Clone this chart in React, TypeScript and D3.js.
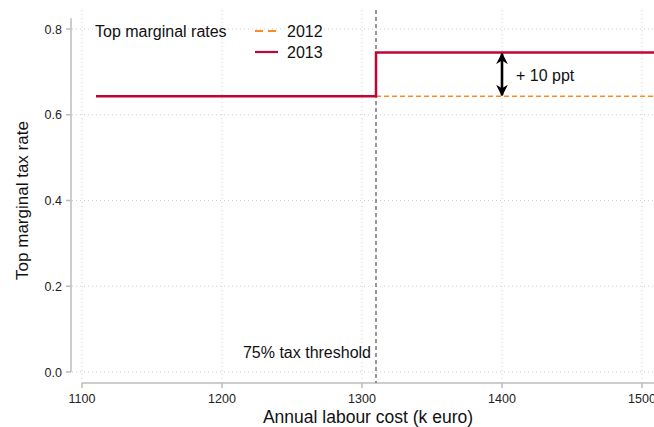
import React from "react";
import * as d3 from "d3";

const xTicks = [1100, 1200, 1300, 1400, 1500];
const yTicks = [0.0, 0.2, 0.4, 0.6, 0.8];
const incomeRange = [1110, 1510];
const threshold = 1310;
const rate2012 = [0.643, 0.643];
const rate2013Below = 0.643;
const rate2013Above = 0.745;
const seriesNames = ["2012", "2013"];
const legendTitle = "Top marginal rates";
const arrowX = 1400;

const W = 654;
const H = 427;
const FONT = "'Liberation Sans', Arial, Helvetica, sans-serif";

export default function App() {
  const x = d3.scaleLinear().domain([1100, 1500]).range([82, 642]);
  const y = d3.scaleLinear().domain([0, 0.8]).range([372, 29]);
  const line = d3
    .line<[number, number]>()
    .x((d) => x(d[0]))
    .y((d) => y(d[1]));

  const data2012: [number, number][] = [
    [incomeRange[0], rate2012[0]],
    [incomeRange[1], rate2012[1]],
  ];
  const data2013: [number, number][] = [
    [incomeRange[0], rate2013Below],
    [threshold, rate2013Below],
    [threshold, rate2013Above],
    [incomeRange[1], rate2013Above],
  ];
  const red = "#c10534";
  const orange = "#ff8c1a";
  const axisY = 383;
  const axisX = 71;

  return (
    <svg
      width={W}
      height={H}
      style={{ position: "absolute", left: 0, top: 0, background: "#fff" }}
      fontFamily={FONT}
    >
      <defs>
        <marker
          id="ah"
          viewBox="0 0 10 10"
          refX="9"
          refY="5"
          markerWidth="4.5"
          markerHeight="4.5"
          orient="auto-start-reverse"
          markerUnits="strokeWidth"
        >
          <path d="M0,0 L10,5 L0,10 L3,5 z" fill="#000" />
        </marker>
      </defs>
      {/* grid */}
      {yTicks.map((t) => (
        <line
          key={"gy" + t}
          x1={axisX + 1}
          x2={W}
          y1={y(t)}
          y2={y(t)}
          stroke="#cfcfcf"
          strokeWidth={1}
          strokeDasharray="1,3"
        />
      ))}
      {xTicks.map((t) => (
        <line
          key={"gx" + t}
          x1={x(t)}
          x2={x(t)}
          y1={10}
          y2={axisY}
          stroke="#cfcfcf"
          strokeWidth={1}
          strokeDasharray="1,3"
        />
      ))}
      {/* axes */}
      <line x1={axisX} x2={axisX} y1={y(0.825)} y2={y(0)} stroke="#bdbdbd" strokeWidth={1.5} />
      {yTicks.map((t) => (
        <g key={"ty" + t}>
          <line x1={axisX - 5} x2={axisX} y1={y(t)} y2={y(t)} stroke="#bdbdbd" strokeWidth={1.5} />
          <text x={axisX - 9} y={y(t) + 4.5} textAnchor="end" fontSize={12.5} fill="#222">
            {t.toFixed(1)}
          </text>
        </g>
      ))}
      <line x1={x(1100)} x2={W + 2} y1={axisY} y2={axisY} stroke="#bdbdbd" strokeWidth={1.5} />
      {xTicks.map((t) => (
        <g key={"tx" + t}>
          <line x1={x(t)} x2={x(t)} y1={axisY} y2={axisY + 5} stroke="#bdbdbd" strokeWidth={1.5} />
          <text x={x(t)} y={axisY + 20} textAnchor="middle" fontSize={12.5} fill="#222">
            {t}
          </text>
        </g>
      ))}
      {/* axis titles */}
      <text
        transform={`translate(28,${(y(0) + y(0.8)) / 2}) rotate(-90)`}
        textAnchor="middle"
        fontSize={17}
        fill="#111"
      >
        Top marginal tax rate
      </text>
      <text x={368} y={423} textAnchor="middle" fontSize={17.5} fill="#111">
        Annual labour cost (k euro)
      </text>
      {/* threshold */}
      <line
        x1={x(threshold)}
        x2={x(threshold)}
        y1={10}
        y2={axisY}
        stroke="#555"
        strokeWidth={1.2}
        strokeDasharray="4,3"
      />
      <text x={x(threshold) - 5} y={358} textAnchor="end" fontSize={16} fill="#111">
        75% tax threshold
      </text>
      {/* series */}
      <path d={line(data2012) || ""} fill="none" stroke={orange} strokeWidth={1.6} strokeDasharray="5,3" />
      <path d={line(data2013) || ""} fill="none" stroke={red} strokeWidth={2.5} />
      {/* arrow */}
      <line
        x1={x(arrowX)}
        x2={x(arrowX)}
        y1={y(rate2013Above) + 1}
        y2={y(rate2012[0]) - 1}
        stroke="#000"
        strokeWidth={2.6}
        markerStart="url(#ah)"
        markerEnd="url(#ah)"
      />
      <text x={x(arrowX) + 14} y={81} fontSize={16} fill="#111">
        + 10 ppt
      </text>
      {/* legend */}
      <text x={95} y={37} fontSize={16} fill="#111">
        {legendTitle}
      </text>
      <line x1={255} x2={278} y1={31} y2={31} stroke={orange} strokeWidth={1.8} strokeDasharray="8,5" />
      <text x={287} y={37} fontSize={16} fill="#111">
        {seriesNames[0]}
      </text>
      <line x1={255} x2={278} y1={52} y2={52} stroke={red} strokeWidth={2.2} />
      <text x={287} y={58} fontSize={16} fill="#111">
        {seriesNames[1]}
      </text>
    </svg>
  );
}
